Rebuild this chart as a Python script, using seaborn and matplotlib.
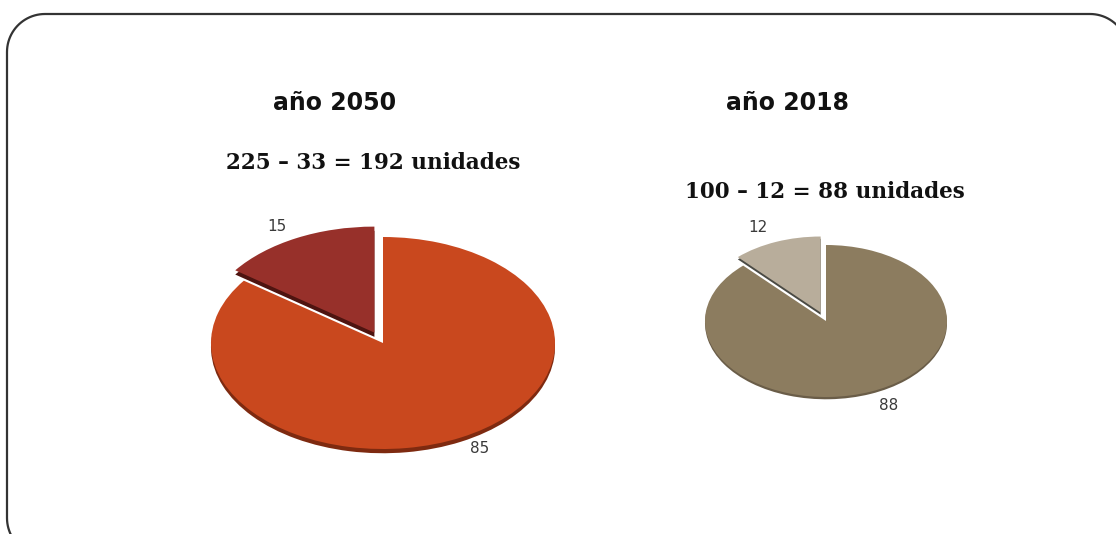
import matplotlib
matplotlib.use("Agg")
import numpy as np
import matplotlib.pyplot as plt
from matplotlib.patches import Polygon
import seaborn as sns

# ---- data ----
titles = ["año 2050", "año 2018"]
equations = ["225 – 33 = 192 unidades", "100 – 12 = 88 unidades"]
values_2050 = [15, 85]
values_2018 = [12, 88]
colors_2050 = ["#97302a", "#c9481e"]
colors_2018 = ["#b8ad9b", "#8c7c5f"]
shadow_2050 = ["#4e1410", "#7e2a10"]
shadow_2018 = ["#4a4a44", "#6a5d48"]

sns.set_theme(style="white")
plt.rcParams['font.family'] = ['DejaVu Sans']

W, H = 1116, 534
fig = plt.figure(figsize=(W / 100, H / 100), dpi=100)
fig.patch.set_facecolor("white")

# rounded frame drawn in a pixel-space background axes (y downward)
bg = fig.add_axes([0, 0, 1, 1])
bg.set_xlim(0, W)
bg.set_ylim(H, 0)
bg.axis("off")


def rounded_rect(x0, y0, x1, y1, r, n=24):
    pts = []
    corners = [(x1 - r, y0 + r, -90, 0), (x1 - r, y1 - r, 0, 90),
               (x0 + r, y1 - r, 90, 180), (x0 + r, y0 + r, 180, 270)]
    for cx, cy, a0, a1 in corners:
        t = np.radians(np.linspace(a0, a1, n))
        pts.extend(zip(cx + r * np.cos(t), cy + r * np.sin(t)))
    return np.array(pts)


bg.add_patch(Polygon(rounded_rect(7, 14, 1128, 556, 38), closed=True,
                     facecolor="none", edgecolor="#333333", linewidth=1.6))


def add_pie(cx, cy, rx, ry, values, colors, shadows, explode, labeldist, depth):
    lim = 1.35
    aw, ah = 2 * rx * lim, 2 * ry * lim
    ax = fig.add_axes([(cx - aw / 2) / W, 1 - (cy + ah / 2) / H, aw / W, ah / H])
    # depth layer
    ax.pie(values, colors=shadows, startangle=90, counterclock=True,
           explode=explode, center=(0, -depth), radius=1,
           wedgeprops=dict(linewidth=0))
    ax.pie(values, colors=colors, startangle=90, counterclock=True,
           explode=explode, labels=[str(v) for v in values],
           labeldistance=labeldist, radius=1,
           textprops=dict(fontsize=11, color="#3a3a3a"),
           wedgeprops=dict(linewidth=0))
    ax.set_aspect("auto")
    ax.set_xlim(-lim, lim)
    ax.set_ylim(-lim, lim)
    ax.axis("off")
    return ax


add_pie(383, 343, 172, 106, values_2050, colors_2050, shadow_2050,
        [0.11, 0.0], 1.12, 0.04)
add_pie(826, 321, 121, 76, values_2018, colors_2018, shadow_2018,
        [0.12, 0.0], 1.2, 0.03)

# titles
fig.text(335 / W, 1 - 103 / H, titles[0], ha="center", va="center",
         fontsize=17, fontweight="bold", color="#111111")
fig.text(788 / W, 1 - 103 / H, titles[1], ha="center", va="center",
         fontsize=17, fontweight="bold", color="#111111")
fig.text(373 / W, 1 - 163 / H, equations[0], ha="center", va="center",
         fontsize=15.5, fontweight="bold", color="#111111", family="DejaVu Serif")
fig.text(825 / W, 1 - 192 / H, equations[1], ha="center", va="center",
         fontsize=15.5, fontweight="bold", color="#111111", family="DejaVu Serif")

fig.savefig("out.png", dpi=100, facecolor="white")
